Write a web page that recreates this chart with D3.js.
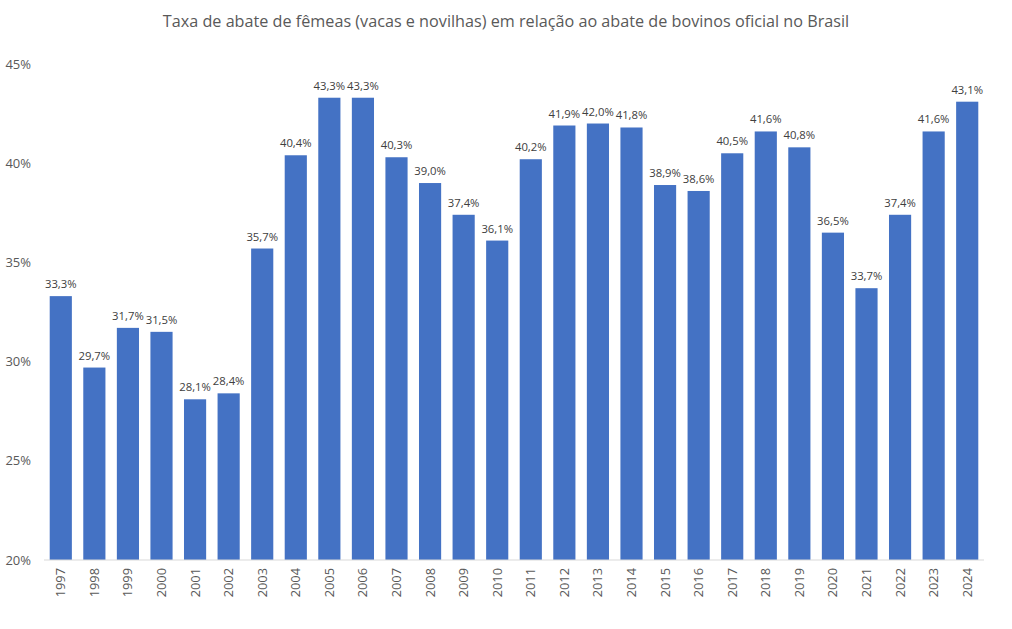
<!DOCTYPE html>
<html>
<head>
<meta charset="utf-8">
<script src="https://cdn.jsdelivr.net/npm/d3@7"></script>
<style>
  body{margin:0;background:#fff;font-family:"Open Sans","Noto Sans",sans-serif;}
</style>
</head>
<body>
<div id="grafico"></div>
<script>
// datos
var anos=["1997","1998","1999","2000","2001","2002","2003","2004","2005","2006","2007","2008","2009","2010","2011","2012","2013","2014","2015","2016","2017","2018","2019","2020","2021","2022","2023","2024"]
var taxa=[33.3,29.7,31.7,31.5,28.1,28.4,35.7,40.4,43.3,43.3,40.3,39.0,37.4,36.1,40.2,41.9,42.0,41.8,38.9,38.6,40.5,41.6,40.8,36.5,33.7,37.4,41.6,43.1]
var ticksY=[20,25,30,35,40,45]

var W=1012,H=629
var margin={top:64,bottom:69,left:44,right:28}
var ancho=W-margin.left-margin.right
var alto=H-margin.top-margin.bottom

var svg=d3.select("#grafico").append("svg")
	.attr("width",W).attr("height",H)

svg.append("text")
	.attr("x",506).attr("y",27)
	.attr("text-anchor","middle")
	.style("font-size","16.2px").style("fill","#595959")
	.text("Taxa de abate de fêmeas (vacas e novilhas) em relação ao abate de bovinos oficial no Brasil")

var g=svg.append("g").attr("transform","translate("+margin.left+","+margin.top+")")

var x=d3.scaleBand().domain(anos).range([0,ancho]).paddingInner(0.34).paddingOuter(0.17)
var y=d3.scaleLinear().domain([20,45]).range([alto,0])

// eje y (solo textos)
g.selectAll(".ty").data(ticksY).enter().append("text")
	.attr("x",-13).attr("y",d=>y(d)).attr("dy","0.35em")
	.attr("text-anchor","end")
	.style("font-size","13px").style("fill","#595959")
	.text(d=>d+"%")

// barras
g.selectAll(".bar").data(taxa).enter().append("rect")
	.attr("x",(d,i)=>x(anos[i]))
	.attr("width",x.bandwidth())
	.attr("y",d=>y(d))
	.attr("height",d=>alto-y(d))
	.style("fill","#4472C4")

// etiquetas
g.selectAll(".lab").data(taxa).enter().append("text")
	.attr("x",(d,i)=>x(anos[i])+x.bandwidth()/2)
	.attr("y",d=>y(d)-8)
	.attr("text-anchor","middle")
	.style("font-size","11.3px").style("fill","#404040")
	.text(d=>d.toFixed(1).replace(".",",")+"%")

// eje x
g.append("line").attr("x1",0).attr("x2",ancho).attr("y1",alto).attr("y2",alto)
	.style("stroke","#d9d9d9").style("stroke-width",1)

g.selectAll(".tx").data(anos).enter().append("text")
	.attr("transform",d=>"translate("+(x(d)+x.bandwidth()/2)+","+(alto+8)+") rotate(-90)")
	.attr("text-anchor","end").attr("dy","0.35em")
	.style("font-size","12.8px").style("fill","#595959")
	.text(d=>d)
</script>
</body>
</html>
